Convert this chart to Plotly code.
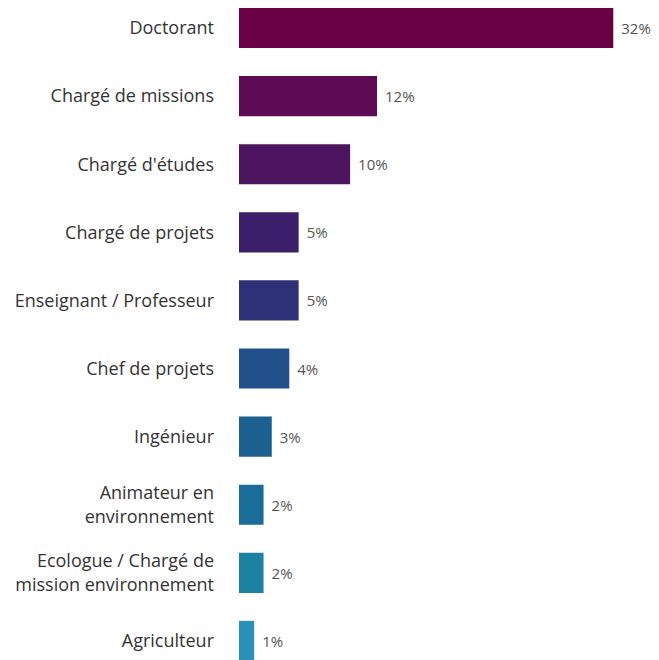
import plotly.graph_objects as go

categories = ["Doctorant", "Chargé de missions", "Chargé d'études", "Chargé de projets",
              "Enseignant / Professeur", "Chef de projets", "Ingénieur",
              "Animateur en<br>environnement", "Ecologue / Chargé de<br>mission environnement",
              "Agriculteur"]
values = [32.0, 11.8, 9.5, 5.1, 5.1, 4.3, 2.8, 2.1, 2.1, 1.3]
labels = ["32%", "12%", "10%", "5%", "5%", "4%", "3%", "2%", "2%", "1%"]
colors = ["#6a0045", "#5e0a55", "#4d145f", "#3b1f6b", "#2f3278", "#23508a",
          "#1c6090", "#1a6d98", "#1d82a2", "#2a92b4"]

fig = go.Figure(go.Bar(
    x=values, y=categories, orientation="h",
    marker=dict(color=colors, line=dict(width=0)),
    text=labels, texttemplate="\u2004%{text}", textposition="outside", cliponaxis=False,
    textfont=dict(family="Open Sans", size=15, color="#555555"),
))

fig.update_layout(
    width=651, height=652,
    margin=dict(l=231, r=20, t=0, b=0),
    paper_bgcolor="white", plot_bgcolor="white",
    bargap=0.41, showlegend=False,
    font=dict(family="Open Sans", size=18, color="#333333"),
)
fig.update_xaxes(range=[0, 34.2], visible=False)
fig.update_yaxes(range=[9.28, -0.294], showgrid=False, showline=False, zeroline=False,
                 ticks="", ticklabelstandoff=24,
                 tickfont=dict(family="Open Sans", size=18, color="#333333"))

fig.write_html("out.html")
